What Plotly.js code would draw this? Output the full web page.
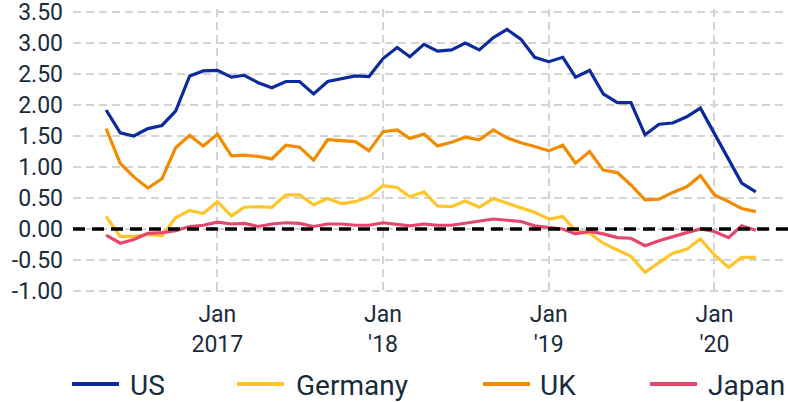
<!DOCTYPE html>
<html>
<head>
<meta charset="utf-8">
<script src="https://cdn.plot.ly/plotly-3.0.1.min.js"></script>
<style>html,body{margin:0;padding:0;background:#fff;}#chart{width:788px;height:402px;}</style>
</head>
<body>
<div id="chart"></div>
<script>
var months = [
  '2016-05-01','2016-06-01','2016-07-01','2016-08-01','2016-09-01','2016-10-01','2016-11-01','2016-12-01',
  '2017-01-01','2017-02-01','2017-03-01','2017-04-01','2017-05-01','2017-06-01','2017-07-01','2017-08-01','2017-09-01','2017-10-01','2017-11-01','2017-12-01',
  '2018-01-01','2018-02-01','2018-03-01','2018-04-01','2018-05-01','2018-06-01','2018-07-01','2018-08-01','2018-09-01','2018-10-01','2018-11-01','2018-12-01',
  '2019-01-01','2019-02-01','2019-03-01','2019-04-01','2019-05-01','2019-06-01','2019-07-01','2019-08-01','2019-09-01','2019-10-01','2019-11-01','2019-12-01',
  '2020-01-01','2020-02-01','2020-03-01','2020-04-01'
];
var us = [1.92,1.55,1.50,1.62,1.67,1.90,2.47,2.55,
  2.56,2.45,2.48,2.36,2.28,2.38,2.38,2.18,2.38,2.42,2.47,2.46,
  2.75,2.93,2.78,2.98,2.87,2.89,3.00,2.89,3.09,3.22,3.06,2.77,
  2.70,2.77,2.45,2.56,2.18,2.04,2.04,1.52,1.69,1.71,1.81,1.95,
  1.54,1.14,0.74,0.60];
var germany = [0.20,-0.12,-0.12,-0.09,-0.11,0.18,0.30,0.25,
  0.44,0.21,0.35,0.36,0.35,0.55,0.55,0.39,0.49,0.41,0.44,0.52,
  0.70,0.67,0.52,0.60,0.37,0.36,0.45,0.35,0.49,0.41,0.34,0.27,
  0.16,0.20,-0.03,-0.07,-0.23,-0.34,-0.44,-0.70,-0.55,-0.39,-0.33,-0.16,
  -0.42,-0.62,-0.46,-0.46];
var uk = [1.62,1.06,0.84,0.66,0.81,1.31,1.51,1.34,
  1.53,1.18,1.19,1.17,1.13,1.35,1.32,1.11,1.44,1.42,1.41,1.26,
  1.57,1.60,1.46,1.53,1.34,1.40,1.48,1.44,1.60,1.47,1.39,1.33,
  1.26,1.35,1.06,1.25,0.95,0.91,0.71,0.47,0.48,0.59,0.68,0.86,
  0.55,0.44,0.33,0.28];
var japan = [-0.10,-0.23,-0.17,-0.07,-0.06,-0.03,0.04,0.06,
  0.11,0.08,0.09,0.04,0.08,0.10,0.09,0.04,0.08,0.08,0.06,0.06,
  0.10,0.08,0.05,0.08,0.06,0.06,0.09,0.13,0.16,0.14,0.12,0.05,
  0.02,0.00,-0.08,-0.04,-0.08,-0.14,-0.15,-0.27,-0.19,-0.12,-0.06,0.00,
  -0.04,-0.14,0.05,-0.02];

var seriesNames = ['US','Germany','UK','Japan'];
var seriesColors = ['#0a2a9e','#ffc52b','#f28b00','#e4476b'];
var seriesData = [us, germany, uk, japan];

var xTickVals = ['2017-01-01','2018-01-01','2019-01-01','2020-01-01'];
var xTickText = ['Jan<br>2017',"Jan<br>'18","Jan<br>'19","Jan<br>'20"];
var yTickVals = [-1.0,-0.5,0,0.5,1.0,1.5,2.0,2.5,3.0,3.5];
var yTickText = ['-1.00','-0.50','0.00','0.50','1.00','1.50','2.00','2.50','3.00','3.50'];

var textColor = '#1a2b3b';
var fontFam = 'Roboto, "Noto Sans", sans-serif';

var traces = seriesNames.map(function(n, i){
  return {x: months, y: seriesData[i], type: 'scatter', mode: 'lines', name: n,
    line: {color: seriesColors[i], width: 3.2}, hoverinfo: 'x+y+name'};
});

// custom legend geometry (plot area: x 73..788, y 9..294)
var plotL = 73, plotW = 715, plotT = 9, plotH = 285;
function px2x(p){ return (p - plotL) / plotW; }
function py2y(p){ return (plotT + plotH - p) / plotH; }
var legendLineStart = [72, 237, 483, 650];
var legendLineLen = 47;
var legendTextStart = [130, 296, 540, 708];
var legendY = 384;

var shapes = [{
  type: 'line', xref: 'paper', yref: 'y', x0: 0, x1: 1, y0: 0, y1: 0,
  line: {color: '#000000', width: 3.5, dash: '12px,7px'}, layer: 'above'
}];
var annotations = [];
seriesNames.forEach(function(n, i){
  shapes.push({type: 'line', xref: 'paper', yref: 'paper',
    x0: px2x(legendLineStart[i]), x1: px2x(legendLineStart[i] + legendLineLen),
    y0: py2y(legendY), y1: py2y(legendY),
    line: {color: seriesColors[i], width: 4}});
  annotations.push({xref: 'paper', yref: 'paper', x: px2x(legendTextStart[i]), y: py2y(legendY + 1),
    xanchor: 'left', yanchor: 'middle', text: n, showarrow: false,
    font: {family: fontFam, size: 28, color: textColor}, xshift: -2});
});

var layout = {
  width: 788, height: 402,
  margin: {l: plotL, r: 0, t: plotT, b: 402 - plotT - plotH},
  paper_bgcolor: '#ffffff', plot_bgcolor: '#ffffff',
  showlegend: false,
  font: {family: fontFam, size: 23, color: textColor},
  xaxis: {
    type: 'date', range: ['2016-02-18','2020-06-11'],
    tickmode: 'array', tickvals: xTickVals, ticktext: xTickText,
    showgrid: true, gridcolor: '#d4d4d4', gridwidth: 2, griddash: '8px,5px',
    zeroline: false, showline: false, ticks: '', ticklabelstandoff: 4,
    tickfont: {family: fontFam, size: 23, color: textColor}
  },
  yaxis: {
    range: [-1.05, 3.55],
    tickmode: 'array', tickvals: yTickVals, ticktext: yTickText,
    showgrid: true, gridcolor: '#d4d4d4', gridwidth: 2, griddash: '8px,5px',
    zeroline: false, showline: false, ticks: '', ticklabelstandoff: 9,
    ticklabeloverflow: 'allow',
    tickfont: {family: fontFam, size: 23, color: textColor}
  },
  shapes: shapes,
  annotations: annotations
};

Plotly.newPlot('chart', traces, layout, {displayModeBar: false, staticPlot: true});
</script>
</body>
</html>
